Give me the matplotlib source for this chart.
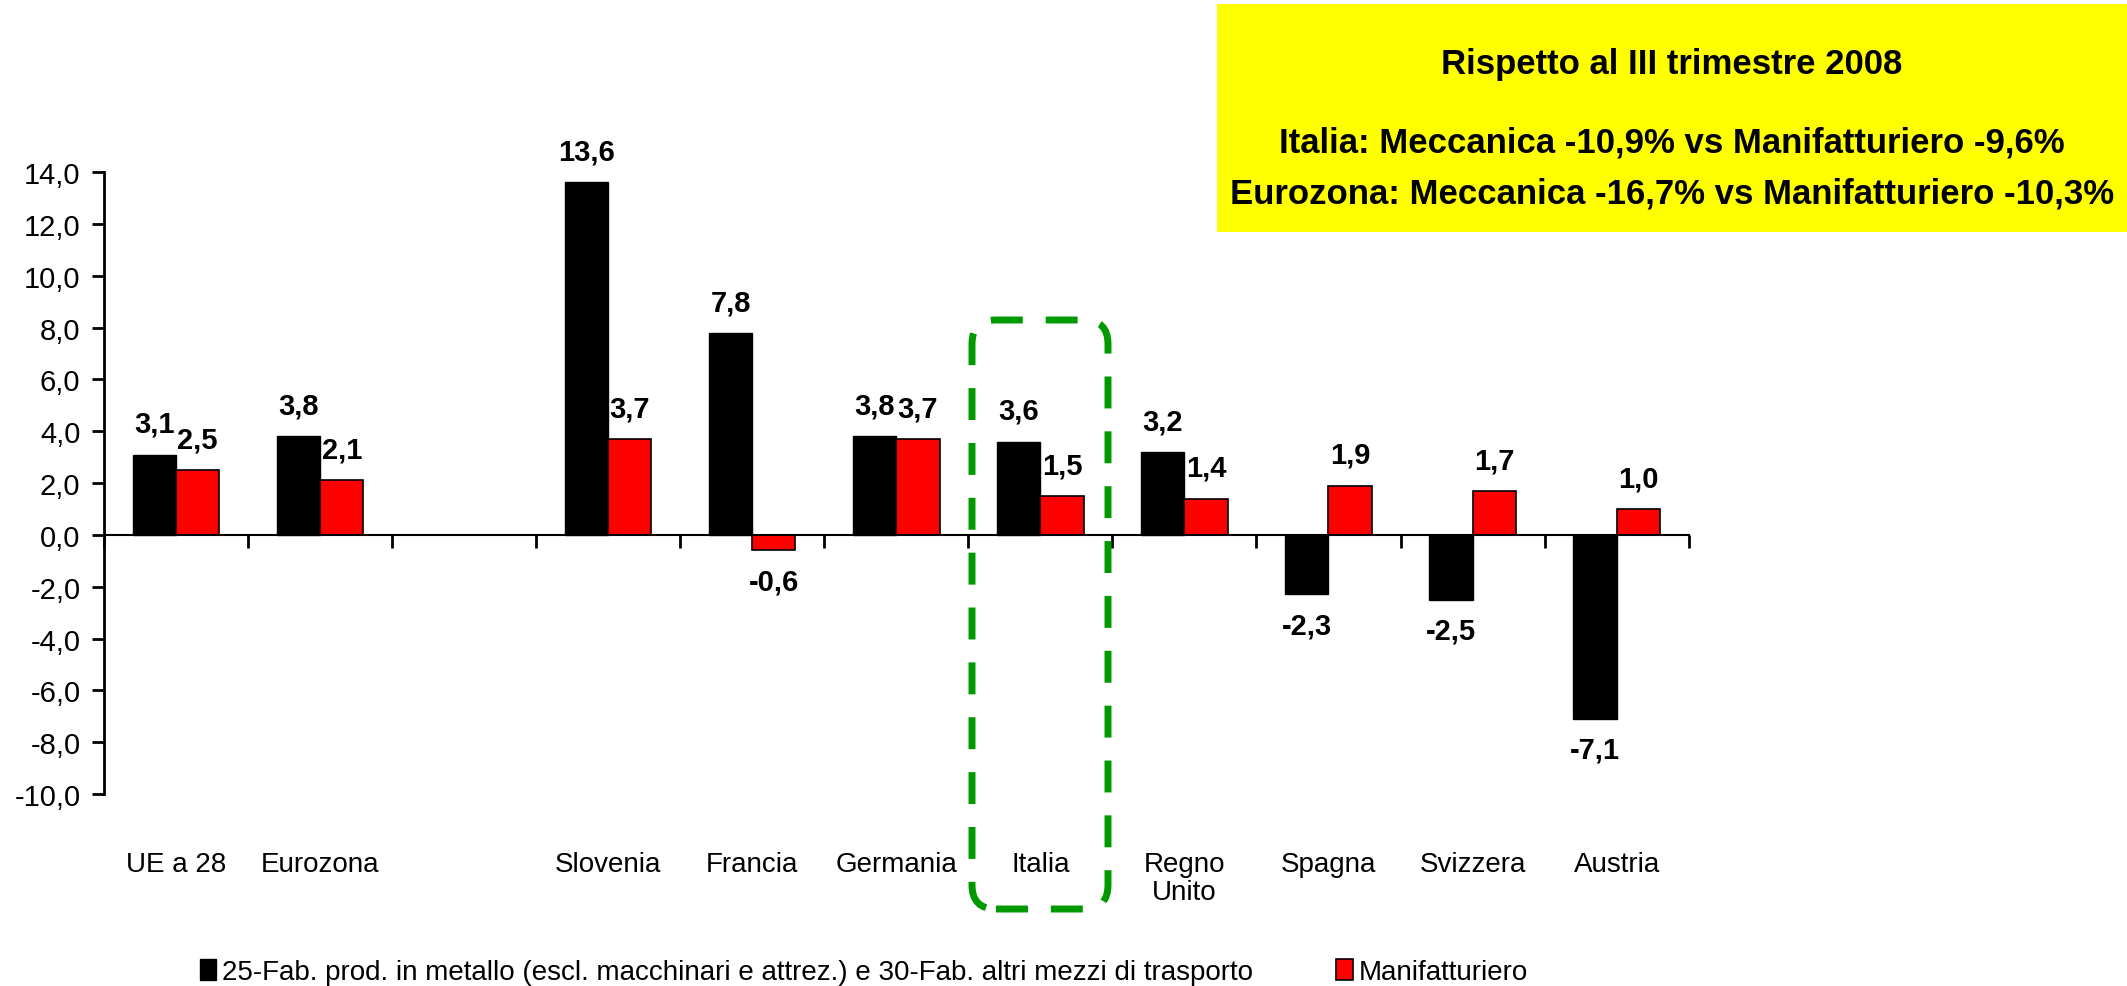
import matplotlib
matplotlib.use("Agg")
import matplotlib.pyplot as plt
import numpy as np
from matplotlib.patches import FancyBboxPatch, Rectangle
from matplotlib.ticker import FuncFormatter, FixedLocator

plt.rcParams['font.family'] = ['Liberation Sans Narrow', 'Liberation Sans', 'DejaVu Sans']

categories = ["UE a 28", "Eurozona", "", "Slovenia", "Francia", "Germania",
              "Italia", "Regno\nUnito", "Spagna", "Svizzera", "Austria"]
metallo = [3.1, 3.8, np.nan, 13.6, 7.8, 3.8, 3.6, 3.2, -2.3, -2.5, -7.1]
manifatturiero = [2.5, 2.1, np.nan, 3.7, -0.6, 3.7, 1.5, 1.4, 1.9, 1.7, 1.0]
yticks = [-10, -8, -6, -4, -2, 0, 2, 4, 6, 8, 10, 12, 14]

legend_labels = ["25-Fab. prod. in metallo (escl. macchinari e attrez.) e 30-Fab. altri mezzi di trasporto",
                 "Manifatturiero"]
box_lines = ["Rispetto al III trimestre 2008",
             "Italia: Meccanica -10,9% vs Manifatturiero -9,6%",
             "Eurozona: Meccanica -16,7% vs Manifatturiero -10,3%"]

W, H = 2127, 987
fig = plt.figure(figsize=(W / 100, H / 100), dpi=100)
ax = fig.add_axes([0.0489, 0.1945, 0.745, 0.6302])

x = np.arange(len(categories)) + 0.5
w = 0.3
b1 = ax.bar(x - w / 2, metallo, w, color="black", edgecolor="black", linewidth=1, label=legend_labels[0])
b2 = ax.bar(x + w / 2, manifatturiero, w, color="#ff0000", edgecolor="black", linewidth=1.2, label=legend_labels[1])

def fmt(v):
    return f"{v:.1f}".replace(".", ",")

for bars, vals in ((b1, metallo), (b2, manifatturiero)):
    for r, v in zip(bars, vals):
        if np.isnan(v):
            continue
        cx = r.get_x() + r.get_width() / 2
        if v >= 0:
            ax.annotate(fmt(v), (cx, v), xytext=(0, 12), textcoords="offset points",
                        ha="center", va="bottom", fontsize=21, fontweight="bold")
        else:
            ax.annotate(fmt(v), (cx, v), xytext=(0, -12), textcoords="offset points",
                        ha="center", va="top", fontsize=21, fontweight="bold")

ax.set_xlim(0, len(categories))
ax.set_ylim(-10, 14)
ax.yaxis.set_major_locator(FixedLocator(yticks))
ax.yaxis.set_major_formatter(FuncFormatter(lambda v, p: fmt(v)))
ax.tick_params(axis="y", labelsize=21, length=9, width=2, direction="out", pad=8)
ax.set_xticks(np.arange(len(categories) + 1))
ax.set_xticklabels([])
ax.tick_params(axis="x", length=9, width=2, direction="out")

for s in ("top", "right"):
    ax.spines[s].set_visible(False)
ax.spines["bottom"].set_position(("data", 0))
ax.spines["bottom"].set_linewidth(1.5)
ax.spines["left"].set_linewidth(2)

for xi, c in zip(x, categories):
    ax.text(xi, -12.2, c, ha="center", va="top", fontsize=20, linespacing=1.1, clip_on=False)

# dashed highlight round Italia (figure fractions, round corners in pixels)
bx0, bx1, by_top, by_bot = 972, 1108, 321, 910
box = FancyBboxPatch((bx0 / W, 1 - by_bot / H), (bx1 - bx0) / W, (by_bot - by_top) / H,
                     boxstyle=f"round,pad=0,rounding_size={24 / W}", mutation_aspect=W / H,
                     transform=fig.transFigure, fill=False, edgecolor="#009900",
                     linewidth=5, linestyle=(0, (4.6, 3.3)))
fig.patches.append(box)

# yellow note
fig.patches.append(Rectangle((0.572, 0.764), 0.428, 0.231, transform=fig.transFigure,
                             facecolor="#ffff00", edgecolor="none"))
fig.text(0.786, 0.935, box_lines[0], ha="center", va="center", fontsize=25, fontweight="bold")
fig.text(0.786, 0.855, box_lines[1], ha="center", va="center", fontsize=25, fontweight="bold")
fig.text(0.786, 0.803, box_lines[2], ha="center", va="center", fontsize=25, fontweight="bold")

fig.legend(handles=[b1, b2], loc="center", bbox_to_anchor=(0.406, 0.014), ncol=2, frameon=False,
           fontsize=20, handlelength=0.6, handleheight=0.8, handletextpad=0.2, columnspacing=3.0)

fig.savefig("out.png", dpi=100)
